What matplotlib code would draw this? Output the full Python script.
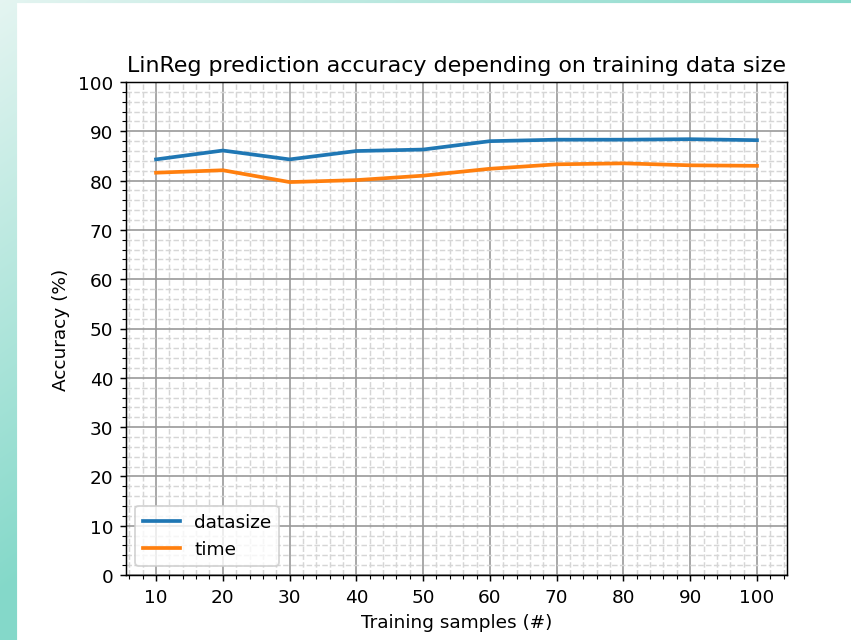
import numpy as np
import matplotlib
matplotlib.use("Agg")
import matplotlib.pyplot as plt

# training samples and accuracy per model variant
samples = [10, 20, 30, 40, 50, 60, 70, 80, 90, 100]
acc_datasize = [84.3, 86.1, 84.3, 86.0, 86.3, 88.0, 88.3, 88.3, 88.4, 88.2]
acc_time = [81.6, 82.1, 79.7, 80.1, 81.0, 82.4, 83.3, 83.5, 83.1, 83.0]

dpi = 133
W, H = 851, 641
fig = plt.figure(figsize=(W / dpi, H / dpi), dpi=dpi)

# teal screenshot frame behind the white figure area
bg = fig.add_axes([0, 0, 1, 1], zorder=-10)
yy, xx = np.mgrid[0:H, 0:W]
t = np.clip(0.9 * xx / W + 1.0 * yy / H + 0.08, 0, 1)
light = np.array([0.93, 0.97, 0.96])
dark = np.array([0.52, 0.85, 0.79])
img = light + (dark - light) * t[..., None]
bg.imshow(img, extent=[0, W, H, 0], aspect="auto")
bg.add_patch(plt.Rectangle((18, 5), W - 18, H - 5, color="white"))
bg.set_xlim(0, W)
bg.set_ylim(H, 0)
bg.axis("off")

ax = fig.add_axes([126 / W, 1 - 576 / H, (787 - 126) / W, (576 - 83) / H])
ax.plot(samples, acc_datasize, label="datasize", linewidth=2)
ax.plot(samples, acc_time, label="time", linewidth=2)

ax.set_ylim(0, 100)
ax.set_xticks(samples)
ax.set_yticks(range(0, 101, 10))
ax.minorticks_on()
ax.grid(which="major", color="#999999", linestyle="-", linewidth=0.9)
ax.grid(which="minor", color="#d6d6d6", linestyle="--")

ax.set_title("LinReg prediction accuracy depending on training data size")
ax.set_xlabel("Training samples (#)")
ax.set_ylabel("Accuracy (%)")
ax.legend(loc="lower left")

fig.savefig("out.png", dpi=dpi)
